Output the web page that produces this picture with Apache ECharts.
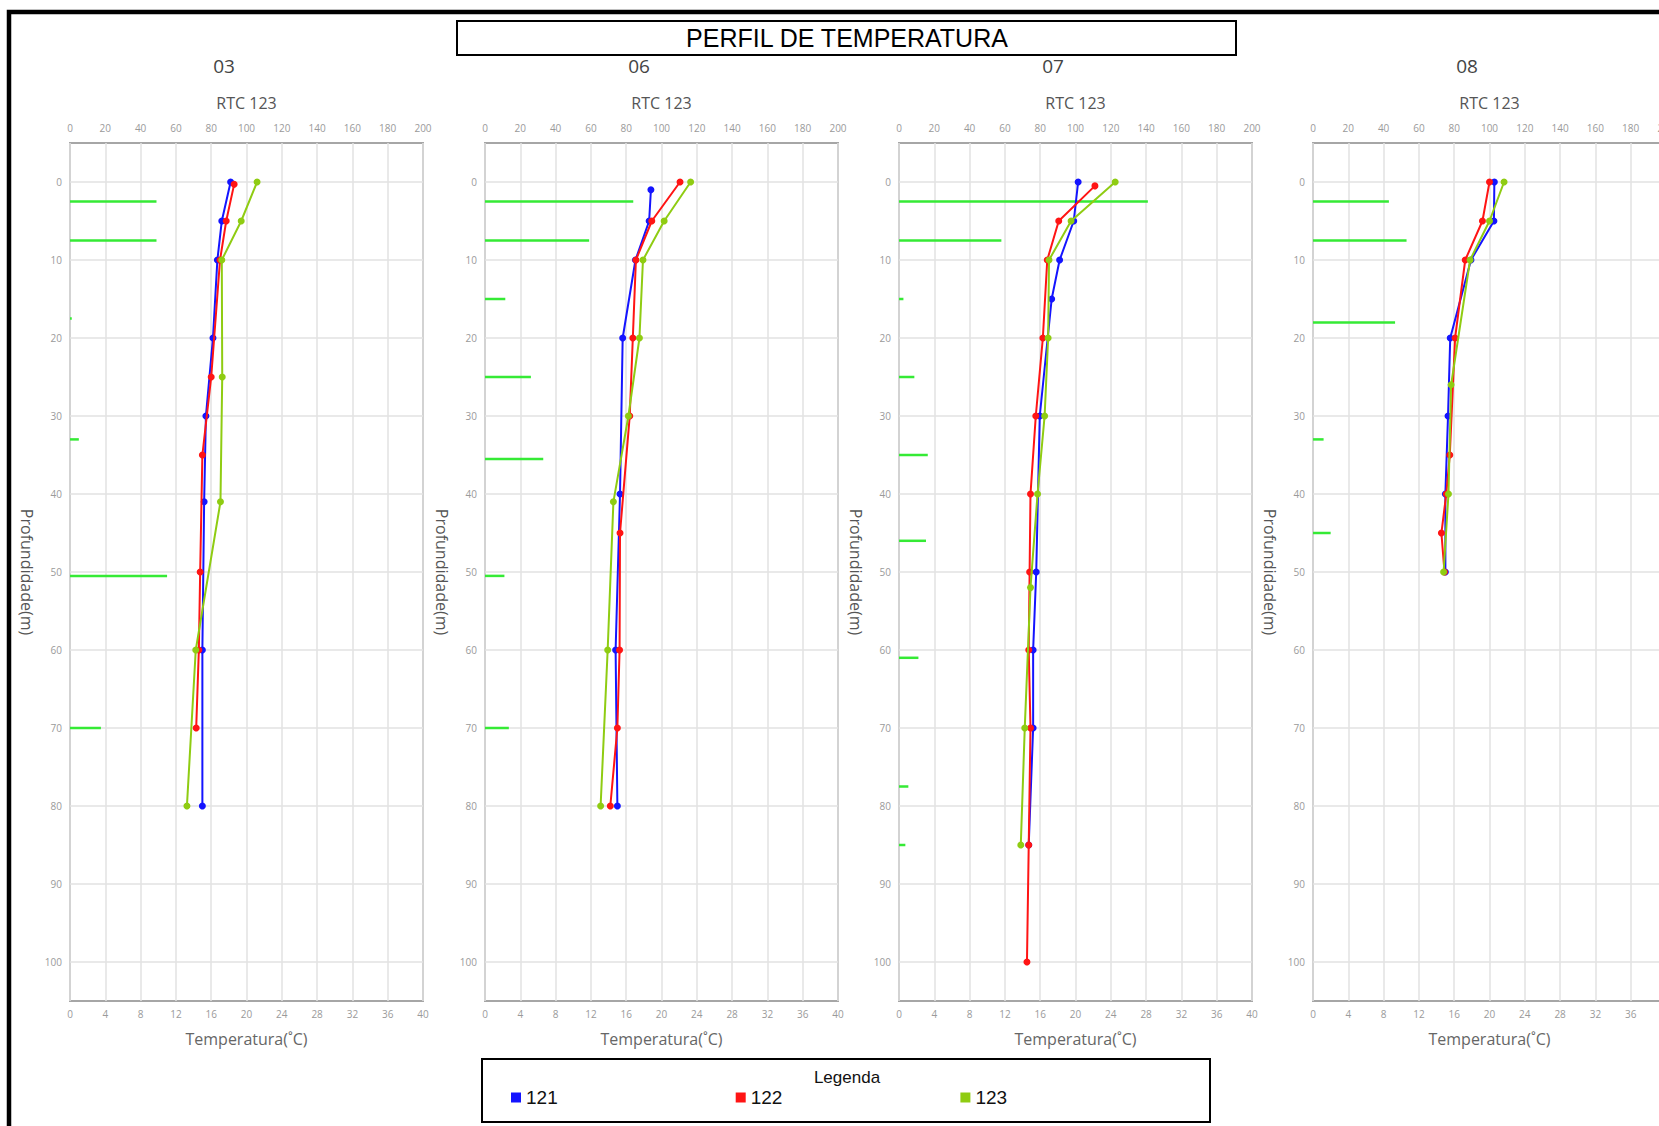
<!DOCTYPE html>
<html>
<head>
<meta charset="utf-8">
<title>Perfil de Temperatura</title>
<script src="https://cdn.jsdelivr.net/npm/echarts@6/dist/echarts.min.js"></script>
<style>
html, body { margin: 0; padding: 0; background: #fff; overflow: hidden; }
#main { width: 1659px; height: 1126px; }
</style>
</head>
<body>
<div id="main"></div>
<script>
var wells = ['03', '06', '07', '08'];
var sensors = ['121', '122', '123'];
var depthTicks = [0, 10, 20, 30, 40, 50, 60, 70, 80, 90, 100];

// [temperatura (C), profundidade (m)]
var w03_121 = [[18.2, 0], [17.2, 5], [16.7, 10], [16.2, 20], [15.4, 30], [15.2, 41], [15.0, 60], [15.0, 80]];
var w03_122 = [[18.6, 0.3], [17.7, 5], [17.0, 10], [16.0, 25], [15.0, 35], [14.75, 50], [14.6, 60], [14.3, 70]];
var w03_123 = [[21.2, 0], [19.4, 5], [17.2, 10], [17.25, 25], [17.05, 41], [14.25, 60], [13.25, 80]];

var w06_121 = [[18.8, 1], [18.6, 5], [17.05, 10], [15.6, 20], [15.3, 40], [14.8, 60], [15.0, 80]];
var w06_122 = [[22.1, 0], [18.9, 5], [17.1, 10], [16.75, 20], [16.4, 30], [15.3, 45], [15.25, 60], [15.0, 70], [14.2, 80]];
var w06_123 = [[23.3, 0], [20.3, 5], [17.9, 10], [17.5, 20], [16.25, 30], [14.55, 41], [13.9, 60], [13.1, 80]];

var w07_121 = [[20.3, 0], [19.8, 5], [18.2, 10], [17.3, 15], [15.95, 30], [15.55, 50], [15.2, 60], [15.2, 70], [14.7, 85]];
var w07_122 = [[22.2, 0.5], [18.1, 5], [16.8, 10], [16.3, 20], [15.5, 30], [14.9, 40], [14.8, 50], [14.7, 60], [14.9, 70], [14.7, 85], [14.5, 100]];
var w07_123 = [[24.5, 0], [19.5, 5], [17.0, 10], [16.9, 20], [16.5, 30], [15.7, 40], [14.9, 52], [14.25, 70], [13.8, 85]];

var w08_121 = [[20.55, 0], [20.5, 5], [17.9, 10], [15.55, 20], [15.3, 30], [15.0, 40], [15.0, 50]];
var w08_122 = [[20.0, 0], [19.2, 5], [17.25, 10], [16.1, 20], [15.5, 35], [15.1, 40], [14.55, 45], [14.9, 50]];
var w08_123 = [[21.65, 0], [20.0, 5], [17.8, 10], [15.65, 26], [15.35, 40], [14.8, 50]];

// RTC 123: [valor, profundidade (m)]
var w03_rtc = [[49, 2.5], [49, 7.5], [1, 17.5], [5, 33], [55, 50.5], [17.5, 70]];
var w06_rtc = [[84, 2.5], [59, 7.5], [11.5, 15], [26, 25], [33, 35.5], [11, 50.5], [13.5, 70]];
var w07_rtc = [[141, 2.5], [58, 7.5], [2.5, 15], [8.7, 25], [16.3, 35], [15.3, 46], [11, 61], [5.3, 77.5], [3.6, 85]];
var w08_rtc = [[43, 2.5], [53, 7.5], [46.5, 18], [6, 33], [10, 45]];

var tempData = [
    [w03_121, w03_122, w03_123],
    [w06_121, w06_122, w06_123],
    [w07_121, w07_122, w07_123],
    [w08_121, w08_122, w08_123]
];
var rtcData = [w03_rtc, w06_rtc, w07_rtc, w08_rtc];

var colors = ['#1414ff', '#ff1414', '#8fcc12'];
var plotLeft = [70, 485, 899, 1313];
var titleX = [224, 639, 1053, 1467];
var labelFont = "'Open Sans', 'DejaVu Sans', sans-serif";
var narrowFont = "'Liberation Sans Narrow', 'Liberation Sans', sans-serif";

var grids = [], xAxes = [], yAxes = [], series = [], graphics = [];

for (var i = 0; i < wells.length; i++) {
    grids.push({
        left: plotLeft[i], top: 143, width: 353, height: 858,
        show: true, borderColor: '#a6a6a6', borderWidth: 2,
        containLabel: false, outerBoundsMode: 'none'
    });
    xAxes.push({
        gridIndex: i, type: 'value', position: 'bottom',
        min: 0, max: 40, interval: 4,
        name: 'Temperatura(˚C)', nameLocation: 'middle', nameGap: 30,
        nameTextStyle: { color: '#666', fontSize: 16, fontFamily: labelFont },
        axisLine: { show: false }, axisTick: { show: false },
        axisLabel: { color: '#9a9a9a', fontSize: 10, margin: 8, fontFamily: labelFont },
        splitLine: { show: true, lineStyle: { color: '#e2e2e2', width: 1.5 } }
    });
    xAxes.push({
        gridIndex: i, type: 'value', position: 'top',
        min: 0, max: 200, interval: 20,
        name: 'RTC 123', nameLocation: 'middle', nameGap: 32,
        nameTextStyle: { color: '#555', fontSize: 16, fontFamily: labelFont },
        axisLine: { show: false }, axisTick: { show: false },
        axisLabel: { color: '#9a9a9a', fontSize: 10, margin: 10, fontFamily: labelFont },
        splitLine: { show: false }
    });
    yAxes.push({
        gridIndex: i, type: 'value', inverse: true,
        min: -5, max: 105,
        name: 'Profundidade(m)', nameLocation: 'middle', nameGap: 35, nameRotate: -90,
        nameTextStyle: { color: '#555', fontSize: 16, fontFamily: labelFont },
        axisLine: { show: false },
        axisTick: { show: false, customValues: depthTicks },
        axisLabel: { color: '#9a9a9a', fontSize: 10, margin: 8, fontFamily: labelFont, customValues: depthTicks },
        splitLine: { show: true, lineStyle: { color: '#e2e2e2', width: 1.5 } }
    });

    series.push({
        type: 'custom', name: 'RTC 123',
        xAxisIndex: 2 * i + 1, yAxisIndex: i,
        data: rtcData[i], encode: { x: 0, y: 1 }, silent: true, z: 1,
        renderItem: function (params, api) {
            var d = api.value(1);
            var a = api.coord([0, d]);
            var b = api.coord([api.value(0), d]);
            return {
                type: 'line',
                shape: { x1: a[0], y1: a[1], x2: b[0], y2: b[1] },
                style: { stroke: '#35ea35', lineWidth: 2.5 }
            };
        }
    });
    for (var s = 0; s < sensors.length; s++) {
        series.push({
            type: 'line', name: sensors[s],
            xAxisIndex: 2 * i, yAxisIndex: i,
            data: tempData[i][s],
            symbol: 'circle', symbolSize: 7, showSymbol: true, showAllSymbol: true,
            lineStyle: { width: 2, color: colors[s] },
            itemStyle: { color: colors[s] },
            z: 3 + s
        });
    }

    graphics.push({
        type: 'text', x: titleX[i], y: 66,
        style: { text: wells[i], font: "19px " + labelFont, fill: '#444',
                 align: 'center', verticalAlign: 'middle', textAlign: 'center', textVerticalAlign: 'middle' }
    });
}

// moldura externa, caixa do titulo e caixa da legenda
graphics.push({
    type: 'rect', shape: { x: 9, y: 12, width: 1700, height: 1200 },
    style: { fill: 'none', stroke: '#000', lineWidth: 4.5 }, silent: true
});
graphics.push({
    type: 'rect', shape: { x: 457, y: 21, width: 779, height: 34 },
    style: { fill: '#fff', stroke: '#000', lineWidth: 2 }, silent: true
});
graphics.push({
    type: 'text', x: 847, y: 38, z: 10,
    style: { text: 'PERFIL DE TEMPERATURA', font: "25px 'Liberation Sans', Arial, sans-serif", fill: '#000',
             align: 'center', verticalAlign: 'middle', textAlign: 'center', textVerticalAlign: 'middle' }
});
graphics.push({
    type: 'rect', shape: { x: 482, y: 1059, width: 728, height: 63 },
    style: { fill: 'none', stroke: '#000', lineWidth: 2 }, silent: true
});
graphics.push({
    type: 'text', x: 847, y: 1077,
    style: { text: 'Legenda', font: "17px " + narrowFont, fill: '#111',
             align: 'center', verticalAlign: 'middle', textAlign: 'center', textVerticalAlign: 'middle' }
});

var option = {
    animation: false,
    backgroundColor: '#fff',
    color: colors,
    legend: {
        data: sensors, left: 511, top: 1088, padding: 0,
        itemGap: 178, itemWidth: 10, itemHeight: 10, icon: 'rect',
        selectedMode: false,
        textStyle: { color: '#111', fontSize: 19, fontFamily: narrowFont }
    },
    grid: grids,
    xAxis: xAxes,
    yAxis: yAxes,
    series: series,
    graphic: graphics
};

var chart = echarts.init(document.getElementById('main'), null, { renderer: 'svg' });
chart.setOption(option);
window.addEventListener('resize', function () {
    chart.resize();
});
</script>
</body>
</html>
